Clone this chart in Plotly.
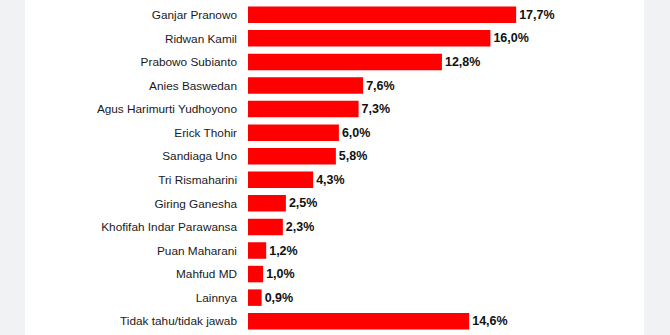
import plotly.graph_objects as go

names = ["Ganjar Pranowo", "Ridwan Kamil", "Prabowo Subianto", "Anies Baswedan",
         "Agus Harimurti Yudhoyono", "Erick Thohir", "Sandiaga Uno", "Tri Rismaharini",
         "Giring Ganesha", "Khofifah Indar Parawansa", "Puan Maharani", "Mahfud MD",
         "Lainnya", "Tidak tahu/tidak jawab"]
values = [17.7, 16.0, 12.8, 7.6, 7.3, 6.0, 5.8, 4.3, 2.5, 2.3, 1.2, 1.0, 0.9, 14.6]
labels = [f"{v:.1f}%".replace(".", ",") for v in values]

W, H = 670, 335
L, R_edge = 248, 644
plot_w = R_edge - L
xmax = plot_w / 15.15

fig = go.Figure(go.Bar(
    x=values, y=names, orientation="h",
    marker=dict(color="#fe0000", line=dict(width=0)),
    width=0.7,
    text=labels, textposition="outside", cliponaxis=False,
    textfont=dict(family="Liberation Sans, Arial", size=12.5, color="#111111", weight="bold"),
))

fig.update_layout(
    width=W, height=H,
    margin=dict(l=L, r=W - R_edge, t=3, b=2),
    paper_bgcolor="#f1f2f4", plot_bgcolor="white",
    showlegend=False,
    font=dict(family="Liberation Sans, Arial", size=12, color="#1a1a1a"),
    xaxis=dict(range=[0, xmax], visible=False, fixedrange=True),
    yaxis=dict(autorange="reversed", showgrid=False, zeroline=False, showline=False,
               ticks="", ticklabelstandoff=10, tickfont=dict(size=11.8, color="#1a1a1a")),
    shapes=[dict(type="rect", xref="paper", yref="paper",
                 x0=(25 - L) / plot_w, x1=1, y0=-0.05, y1=1.05,
                 fillcolor="white", line=dict(width=0), layer="below")],
)

fig.write_html("out.html")
